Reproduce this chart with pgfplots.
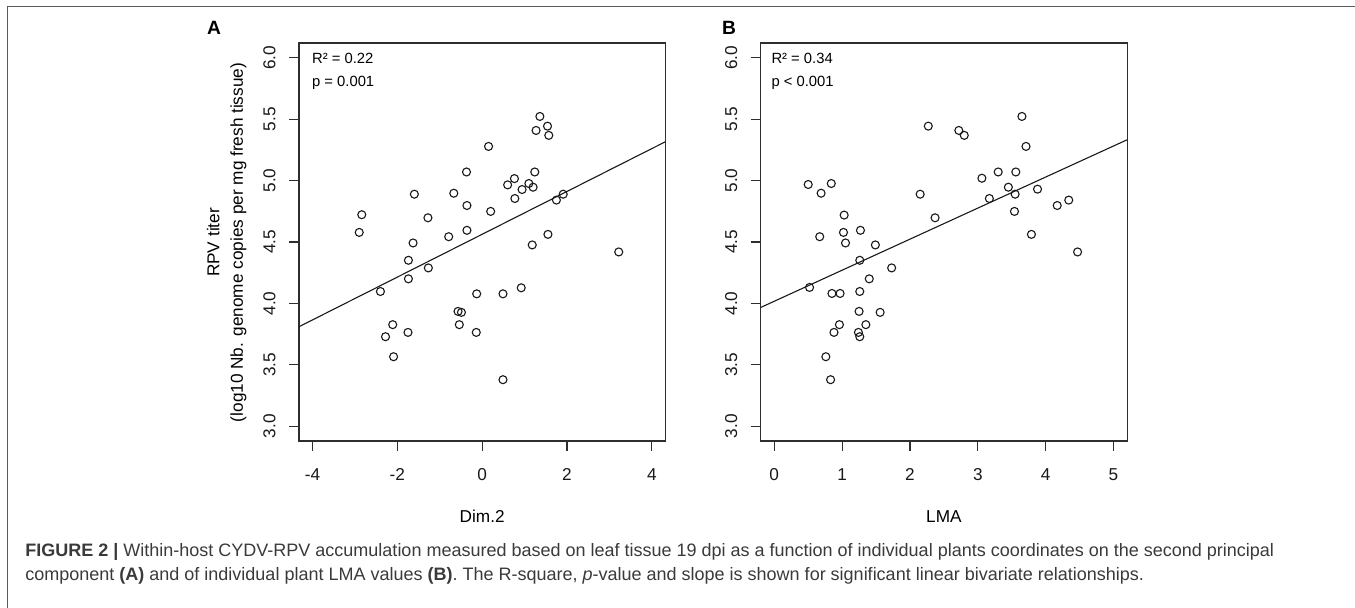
\documentclass[border=0pt]{standalone}
\usepackage{fontspec}
\setmainfont{Liberation Sans}
\usepackage{pgfplots}
\pgfplotsset{compat=1.18}
\definecolor{axgray}{HTML}{2E2E2E}
\definecolor{capgray}{HTML}{3A3A3A}
\definecolor{framegray}{HTML}{5A5A5A}
\pgfplotstableread{
x y
-2.90 4.578
-2.84 4.722
-1.60 4.889
-1.63 4.492
-1.74 4.351
-1.74 4.200
-1.28 4.697
-1.27 4.289
-2.40 4.097
-0.79 4.543
-0.67 4.897
-0.37 5.070
-0.36 4.797
-0.36 4.595
0.15 5.278
0.20 4.749
-0.13 4.078
0.49 4.078
0.92 4.127
0.60 4.965
0.76 5.016
0.77 4.854
0.94 4.927
1.10 4.976
1.20 4.946
1.24 5.070
1.18 4.476
1.27 5.408
1.36 5.522
1.54 5.443
1.57 5.368
1.55 4.562
1.75 4.841
1.91 4.889
3.22 4.419
-2.11 3.827
-2.28 3.729
-1.75 3.764
-2.09 3.566
-0.57 3.935
-0.49 3.927
-0.54 3.827
-0.14 3.764
0.49 3.379
}\dimtwo
\pgfplotstableread{
x y
0.50 4.968
0.69 4.897
0.84 4.976
0.67 4.543
1.03 4.719
1.02 4.578
1.05 4.492
1.27 4.595
1.49 4.476
1.26 4.351
1.73 4.289
1.40 4.200
0.52 4.130
0.85 4.081
0.97 4.081
1.26 4.097
2.27 5.443
2.72 5.408
2.80 5.368
2.15 4.889
2.37 4.697
3.06 5.019
3.17 4.854
3.30 5.070
3.45 4.946
3.56 5.070
3.55 4.889
3.54 4.749
3.65 5.522
3.71 5.278
3.88 4.930
3.79 4.562
4.17 4.797
4.34 4.841
4.47 4.419
1.25 3.935
1.56 3.927
0.96 3.827
1.35 3.827
0.88 3.764
1.24 3.764
1.26 3.729
0.76 3.566
0.83 3.379
}\lma
\pgfplotsset{
  rplot/.style={
    scale only axis, width=183.2pt, height=199pt,
    anchor=south west,
    ymin=2.88, ymax=6.12,
    ytick={3,3.5,4,4.5,5,5.5,6},
    yticklabels={3.0,3.5,4.0,4.5,5.0,5.5,6.0},
    xtick pos=bottom, ytick pos=left,
    tick align=outside, major tick length=5pt,
    axis line style={axgray, line width=0.55pt},
    tick style={axgray, line width=0.55pt},
    ticklabel style={font=\fontsize{8.6}{10}\selectfont, inner sep=0pt, text=black!90},
    xticklabel style={anchor=north, yshift=-8.45pt},
    yticklabel style={xshift=-6.5pt, rotate=90, anchor=south},
    clip=true,
  },
  rpts/.style={only marks, mark=o, mark size=2pt, line width=0.55pt, black!90},
  rline/.style={no marks, line width=0.55pt, black!90},
}
\begin{document}
\begin{tikzpicture}[x=1pt,y=1pt]
\useasboundingbox (0,0) rectangle (677.5,304);
\draw[framegray, line width=0.8pt] (3.65,0) -- (3.65,300.75) -- (677.5,300.75);

% panel A
\begin{axis}[rplot, at={(149.5pt,83.5pt)},
  xmin=-4.32, xmax=4.32,
  xtick={-4,-2,0,2,4}, xticklabels={-4,-2,0,2,4}]
\addplot[rpts] table[x=x, y=y] {\dimtwo};
\addplot[rline] coordinates {(-4.32,3.81) (4.32,5.316)};
\node[anchor=base west, inner sep=0pt, font=\fontsize{7.4}{9}\selectfont]
  at (rel axis cs:0,1) [xshift=6.35pt, yshift=-10.45pt] {R² = 0.22};
\node[anchor=base west, inner sep=0pt, font=\fontsize{7.4}{9}\selectfont]
  at (rel axis cs:0,1) [xshift=6.35pt, yshift=-21.95pt] {p = 0.001};
\end{axis}

% panel B
\begin{axis}[rplot, at={(380.35pt,83.5pt)},
  xmin=-0.2, xmax=5.2,
  xtick={0,1,2,3,4,5}, xticklabels={0,1,2,3,4,5}]
\addplot[rpts] table[x=x, y=y] {\lma};
\addplot[rline] coordinates {(-0.2,3.967) (5.2,5.332)};
\node[anchor=base west, inner sep=0pt, font=\fontsize{7.4}{9}\selectfont]
  at (rel axis cs:0,1) [xshift=5.2pt, yshift=-10.45pt] {R² = 0.34};
\node[anchor=base west, inner sep=0pt, font=\fontsize{7.4}{9}\selectfont]
  at (rel axis cs:0,1) [xshift=5.2pt, yshift=-21.95pt] {p < 0.001};
\end{axis}

% axis titles and panel letters
\node[rotate=90, align=center, inner sep=0pt, font=\fontsize{8.6}{11.65}\selectfont]
  at (113.35,182.75) {RPV titer\\(log10 Nb. genome copies per mg fresh tissue)};
\node[inner sep=0pt, font=\fontsize{8.6}{10}\selectfont] at (241.1,45.7) {Dim.2};
\node[inner sep=0pt, font=\fontsize{8.6}{10}\selectfont] at (471.95,45.7) {LMA};
\node[font=\fontsize{9.6}{11}\bfseries, inner sep=0pt] at (107,289.85) {A};
\node[font=\fontsize{9.6}{11}\bfseries, inner sep=0pt] at (364.5,289.85) {B};

% caption
\node[anchor=base west, inner sep=0pt, text=capgray, font=\fontsize{9}{11}\selectfont]
  at (12.5,25.5) {\textbf{FIGURE 2 |} Within-host CYDV-RPV accumulation measured based on leaf tissue 19 dpi as a function of individual plants coordinates on the second principal};
\node[anchor=base west, inner sep=0pt, text=capgray, font=\fontsize{9}{11}\selectfont]
  at (12.5,13.75) {component \textbf{(A)} and of individual plant LMA values \textbf{(B)}. The R-square, \textit{p}-value and slope is shown for significant linear bivariate relationships.};
\end{tikzpicture}
\end{document}
